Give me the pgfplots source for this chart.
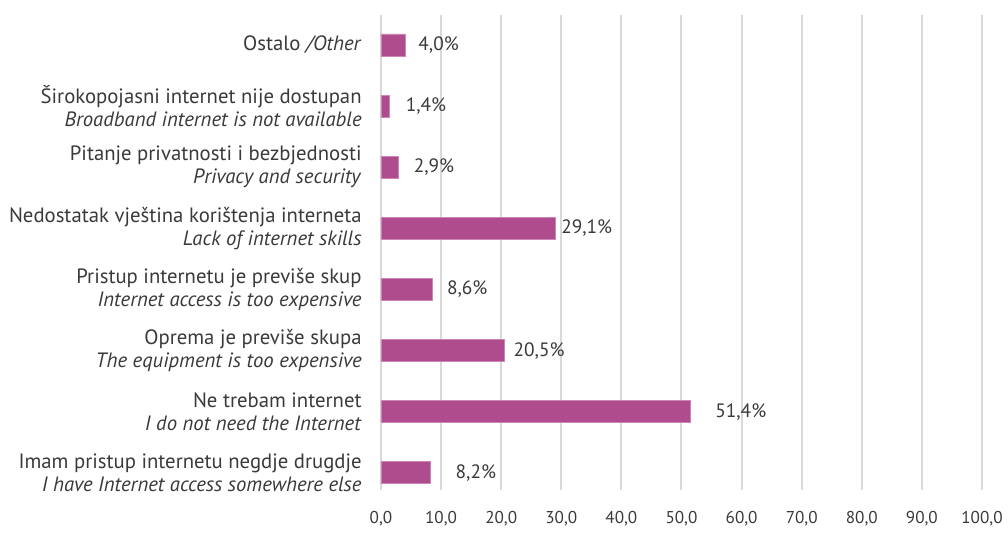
\documentclass[border=0pt]{standalone}
\usepackage{fontspec}
\setmainfont{PT Sans}
\usepackage{pgfplots}
\usepackage{pgfplotstable}
\pgfplotsset{compat=1.18}
\usetikzlibrary{calc}
\definecolor{Bar}{HTML}{AE4C8E}
\definecolor{BarEdge}{HTML}{CC86B6}
\definecolor{Grid}{HTML}{D9D9D9}
\definecolor{Txt}{HTML}{3A3A3A}

% y, value, label gap (bp), label text
\pgfplotstableread{
y val dx lab
0 8.2  12.5 {8,2\%}
1 51.4 12.5 {51,4\%}
2 20.5 4.5  {20,5\%}
3 8.6  7    {8,6\%}
4 29.1 2.5  {29,1\%}
5 2.9  7.5  {2,9\%}
6 1.4  8    {1,4\%}
7 4.0  6.5  {4,0\%}
}\reasons

\begin{document}
\begin{tikzpicture}
\begin{axis}[
  name=ax,
  xbar,
  scale only axis,
  width=300.5bp, height=237.5bp,
  xmin=0, xmax=100,
  ymin=-0.28, ymax=7.49,
  xtick={0,10,...,100},
  ytick={0,...,7},
  yticklabels={
    {Imam pristup internetu negdje drugdje\\\textit{I have Internet access somewhere else}},
    {Ne trebam internet\\\textit{I do not need the Internet}},
    {Oprema je previše skupa\\\textit{The equipment is too expensive}},
    {Pristup internetu je previše skup\\\textit{Internet access is too expensive}},
    {Nedostatak vještina korištenja interneta\\\textit{Lack of internet skills}},
    {Pitanje privatnosti i bezbjednosti\\\textit{Privacy and security}},
    {Širokopojasni internet nije dostupan\\\textit{Broadband internet is not available}},
    {Ostalo \textit{/Other}}},
  yticklabel style={align=right, inner sep=0pt, xshift=-9.5bp,
    font=\fontsize{10.4}{11.6}\selectfont, text=Txt},
  xticklabel style={inner sep=0pt, yshift=-10.5bp,
    font=\fontsize{8.6}{10}\selectfont, text=Txt,
    /pgf/number format/.cd, use comma, fixed, fixed zerofill, precision=1,
    assume math mode=true},
  major tick length=0pt,
  axis line style={draw=none},
  xmajorgrids=true,
  grid style={draw=Grid, line width=1bp},
  bar width=11bp,
  point meta=explicit symbolic,
  nodes near coords={\pgfplotspointmeta},
  visualization depends on={\thisrow{dx} \as \dx},
  nodes near coords style={anchor=west, inner sep=0pt, xshift=\dx bp,
    font=\fontsize{9.7}{11}\selectfont, text=Txt},
]
\addplot[fill=Bar, draw=BarEdge, line width=0.4bp]
  table[x=val, y=y, meta=lab] {\reasons};
\end{axis}
\pgfresetboundingbox
\path ($(ax.south west)+(-190.5bp,-23bp)$) rectangle ($(ax.north east)+(13bp,7.5bp)$);
\end{tikzpicture}
\end{document}
